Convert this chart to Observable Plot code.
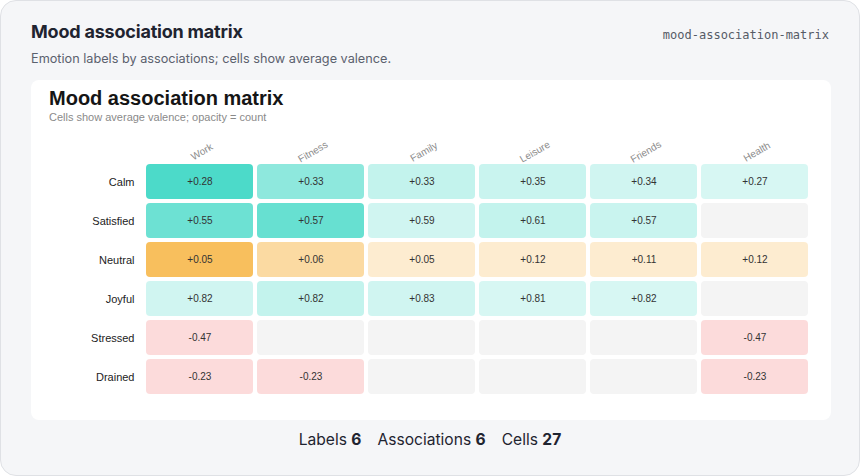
<!DOCTYPE html>
<html>
<head>
<meta charset="utf-8">
<script src="https://cdn.jsdelivr.net/npm/d3@7"></script>
<script src="https://cdn.jsdelivr.net/npm/@observablehq/plot@0.6"></script>
<style>
  html, body { margin: 0; padding: 0; background: #ffffff; }
  #page {
    position: relative; width: 860px; height: 476px; box-sizing: border-box;
    background: #f5f6f8; border: 1px solid #dfe1e5; border-radius: 16px; overflow: hidden;
    font-family: Inter, "Noto Sans", sans-serif;
  }
  #h-title { position: absolute; left: 30px; top: 20px; margin: 0; font-size: 18px; font-weight: 700; color: #1f2430; letter-spacing: -0.2px; }
  #h-sub { position: absolute; left: 30px; top: 50px; margin: 0; font-size: 12.7px; color: #5b616e; }
  #h-id { position: absolute; right: 30px; top: 27px; font-family: "DejaVu Sans Mono", monospace; font-size: 12px; color: #555b66; }
  #card {
    position: absolute; left: 30px; top: 79px; width: 800px; height: 340px;
    background: #ffffff; border-radius: 8px;
  }
  #c-title { position: absolute; left: 18px; top: 7px; margin: 0; font-family: "Liberation Sans", Arial, sans-serif; font-size: 20px; font-weight: 700; color: #151515; }
  #c-sub { position: absolute; left: 18px; top: 31px; margin: 0; font-family: "Liberation Sans", Arial, sans-serif; font-size: 11px; color: #8a8a8a; }
  #chart { position: absolute; left: 17px; top: 48px; }
  #footer { position: absolute; left: 0; width: 858px; top: 429px; text-align: center; font-size: 15.6px; color: #1f2430; }
  #footer span { margin: 0 8px; }
  #footer b { font-weight: 700; }
</style>
</head>
<body>
<div id="page">
  <h1 id="h-title">Mood association matrix</h1>
  <p id="h-sub">Emotion labels by associations; cells show average valence.</p>
  <div id="h-id">mood-association-matrix</div>
  <div id="card">
    <h2 id="c-title">Mood association matrix</h2>
    <p id="c-sub">Cells show average valence; opacity = count</p>
    <div id="chart"></div>
  </div>
  <div id="footer"></div>
</div>
<script>
const labels = ["Calm", "Satisfied", "Neutral", "Joyful", "Stressed", "Drained"];
const associations = ["Work", "Fitness", "Family", "Leisure", "Friends", "Health"];
// average valence per label (rows) x association (columns); null = no entries
const valence = [
  [0.28, 0.33, 0.33, 0.35, 0.34, 0.27],
  [0.55, 0.57, 0.59, 0.61, 0.57, null],
  [0.05, 0.06, 0.05, 0.12, 0.11, 0.12],
  [0.82, 0.82, 0.83, 0.81, 0.82, null],
  [-0.47, null, null, null, null, -0.47],
  [-0.23, -0.23, null, null, null, -0.23]
];
// number of entries per cell (estimated from opacity)
const counts = [
  [24, 14, 6, 5, 4, 3],
  [19, 20, 4, 6, 5, null],
  [18, 9, 3, 3, 3, 3],
  [4, 6, 4, 3, 3, null],
  [3, null, null, null, null, 3],
  [3, 3, null, null, null, 3]
];
const bandColors = ["#ef4444", "#f59e0b", "#2dd4bf"];

const cells = [], empty = [];
labels.forEach((lab, i) => associations.forEach((a, j) => {
  const v = valence[i][j];
  if (v == null) empty.push({label: lab, assoc: a});
  else cells.push({label: lab, assoc: a, v, n: counts[i][j]});
}));

const fmt = v => (v > 0 ? "+" : "") + v.toFixed(2);

const chart = Plot.plot({
  width: 764,
  height: 282,
  marginLeft: 94,
  marginRight: 1,
  marginTop: 34,
  marginBottom: 14,
  style: {fontFamily: "'Liberation Sans', Arial, sans-serif", fontSize: "11px", background: "transparent"},
  x: {domain: associations, padding: 0, axis: null},
  y: {domain: labels, padding: 0, axis: null},
  color: {type: "threshold", domain: [0, 0.2], range: bandColors},
  opacity: {domain: [0, 24], range: [0.1, 0.85]},
  marks: [
    Plot.cell(empty, {x: "assoc", y: "label", fill: "#f4f4f4", inset: 2, rx: 4}),
    Plot.cell(cells, {x: "assoc", y: "label", fill: "v", fillOpacity: "n", inset: 2, rx: 4}),
    Plot.text(cells, {x: "assoc", y: "label", text: d => fmt(d.v), fill: "#333", fontSize: 10}),
    Plot.axisY({tickSize: 0, tickPadding: 8, label: null, fontSize: 11, color: "#222"}),
    Plot.text(associations, {x: d => d, frameAnchor: "top", dy: -14, rotate: -30, text: d => d, fill: "#8c8c8c", fontSize: 10, textAnchor: "middle"})
  ]
});
document.getElementById("chart").appendChild(chart);

document.getElementById("footer").innerHTML =
  `<span>Labels <b>${labels.length}</b></span><span>Associations <b>${associations.length}</b></span><span>Cells <b>${cells.length}</b></span>`;
</script>
</body>
</html>
